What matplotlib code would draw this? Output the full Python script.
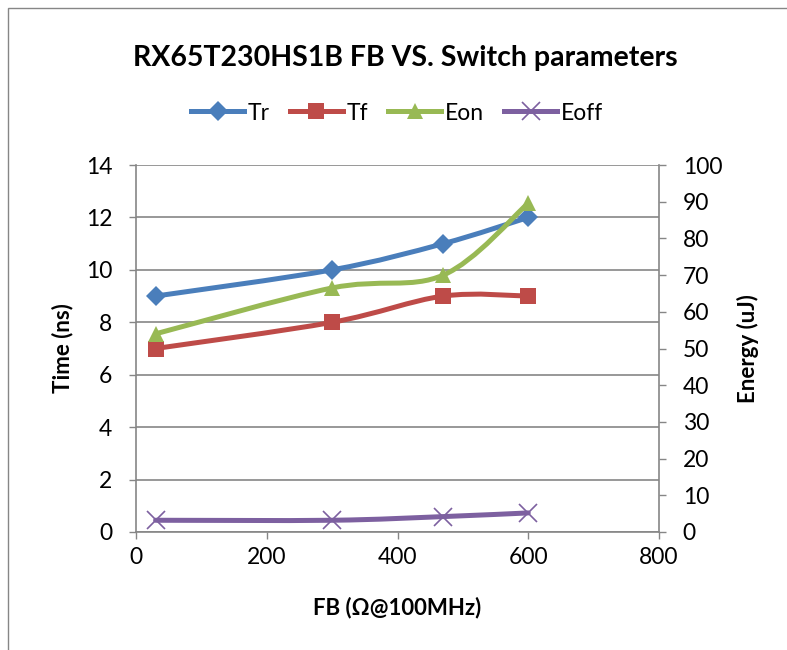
import matplotlib
matplotlib.use("Agg")
import matplotlib.pyplot as plt
from matplotlib.path import Path
from matplotlib.patches import PathPatch, Rectangle
from matplotlib.lines import Line2D

plt.rcParams["font.family"] = ["Lato", "DejaVu Sans"]

# ---- data -----------------------------------------------------------------
fb = [30, 300, 470, 600]          # FB (ohm @ 100 MHz)
tr = [9, 10, 11, 12]              # ns
tf = [7, 8, 9, 9]                 # ns
eon = [54, 66.5, 70, 89.6]        # uJ
eoff = [3.2, 3.2, 4.2, 5.2]       # uJ

title = "RX65T230HS1B FB VS. Switch parameters"
grey = "#868686"
W, H = 787, 650


def smooth_path(xs, ys):
    """Excel-like smoothed line: Catmull-Rom segments as cubic Beziers."""
    n = len(xs)
    verts = [(xs[0], ys[0])]
    codes = [Path.MOVETO]
    for i in range(n - 1):
        x0, y0 = (xs[i - 1], ys[i - 1]) if i > 0 else (xs[i], ys[i])
        x3, y3 = (xs[i + 2], ys[i + 2]) if i + 2 < n else (xs[i + 1], ys[i + 1])
        c1 = (xs[i] + (xs[i + 1] - x0) / 6, ys[i] + (ys[i + 1] - y0) / 6)
        c2 = (xs[i + 1] - (x3 - xs[i]) / 6, ys[i + 1] - (y3 - ys[i]) / 6)
        verts += [c1, c2, (xs[i + 1], ys[i + 1])]
        codes += [Path.CURVE4] * 3
    return Path(verts, codes)


fig = plt.figure(figsize=(W / 100, H / 100), dpi=100)
fig.patches.append(Rectangle((8 / W, -0.1), 1.2, 1.1 - 8 / H,
                             transform=fig.transFigure, fill=False,
                             edgecolor=grey, linewidth=1.0))

# plot area: x 136..659 px, y 165..532 px
ax = fig.add_axes([136 / W, 1 - 532 / H, 523 / W, 367 / H])
ax2 = ax.twinx()

series = [
    (ax, tr, "Tr", "#4A7EBB", "D", 10),
    (ax, tf, "Tf", "#BE4B48", "s", 11.5),
    (ax2, eon, "Eon", "#98B954", "^", 12),
    (ax2, eoff, "Eoff", "#7D60A0", "x", 13),
]
handles = []
for a, ys, name, color, mk, ms in series:
    a.add_patch(PathPatch(smooth_path(fb, ys), facecolor="none",
                          edgecolor=color, linewidth=3.6, capstyle="round",
                          joinstyle="round", zorder=3))
    mew = 1.2 if mk == "x" else 0
    a.plot(fb, ys, linestyle="none", marker=mk, markersize=ms, color=color,
           markeredgewidth=mew, zorder=4)
    handles.append(Line2D([], [], color=color, linewidth=3.6, marker=mk,
                          markersize=ms, markeredgewidth=mew, label=name))

ax.set_xlim(0, 800)
ax.set_ylim(0, 14)
ax2.set_ylim(0, 100)
ax.set_xticks(range(0, 801, 200))
ax.set_yticks(range(0, 15, 2))
ax2.set_yticks(range(0, 101, 10))
ax.yaxis.grid(True, color=grey, linewidth=1.2)
ax.set_axisbelow(True)

for a in (ax, ax2):
    for s in a.spines.values():
        s.set_visible(False)
    a.tick_params(labelsize=16.5, colors=grey, labelcolor="black",
                  length=5, width=1.0, pad=12)
ax.spines["left"].set_visible(True)
ax.spines["bottom"].set_visible(True)
ax2.spines["right"].set_visible(True)
for s in (ax.spines["left"], ax.spines["bottom"], ax2.spines["right"]):
    s.set_color(grey)
    s.set_linewidth(1.2)
ax.tick_params(axis="x", pad=6)

ax.set_xlabel("FB (Ω@100MHz)", fontsize=16, fontweight="bold", va="center")
ax.xaxis.set_label_coords(0.5, (532 - 608) / 367)
ax.set_ylabel("Time (ns)", fontsize=16, fontweight="bold", va="center")
ax.yaxis.set_label_coords((63 - 136) / 523, 0.5)
ax2.set_ylabel("Energy (uJ)", fontsize=16, fontweight="bold", va="center")
ax2.yaxis.set_label_coords((748 - 136) / 523, 0.5)

fig.text(405 / W, 1 - 66 / H, title, ha="center", va="baseline",
         fontsize=20.5, fontweight="bold")
fig.legend(handles=handles, loc="center", bbox_to_anchor=(397 / W, 1 - 113 / H),
           ncol=4, frameon=False, fontsize=16.5, handlelength=2.3,
           handletextpad=0.15, columnspacing=0.9)

fig.savefig("out.png", dpi=100)
